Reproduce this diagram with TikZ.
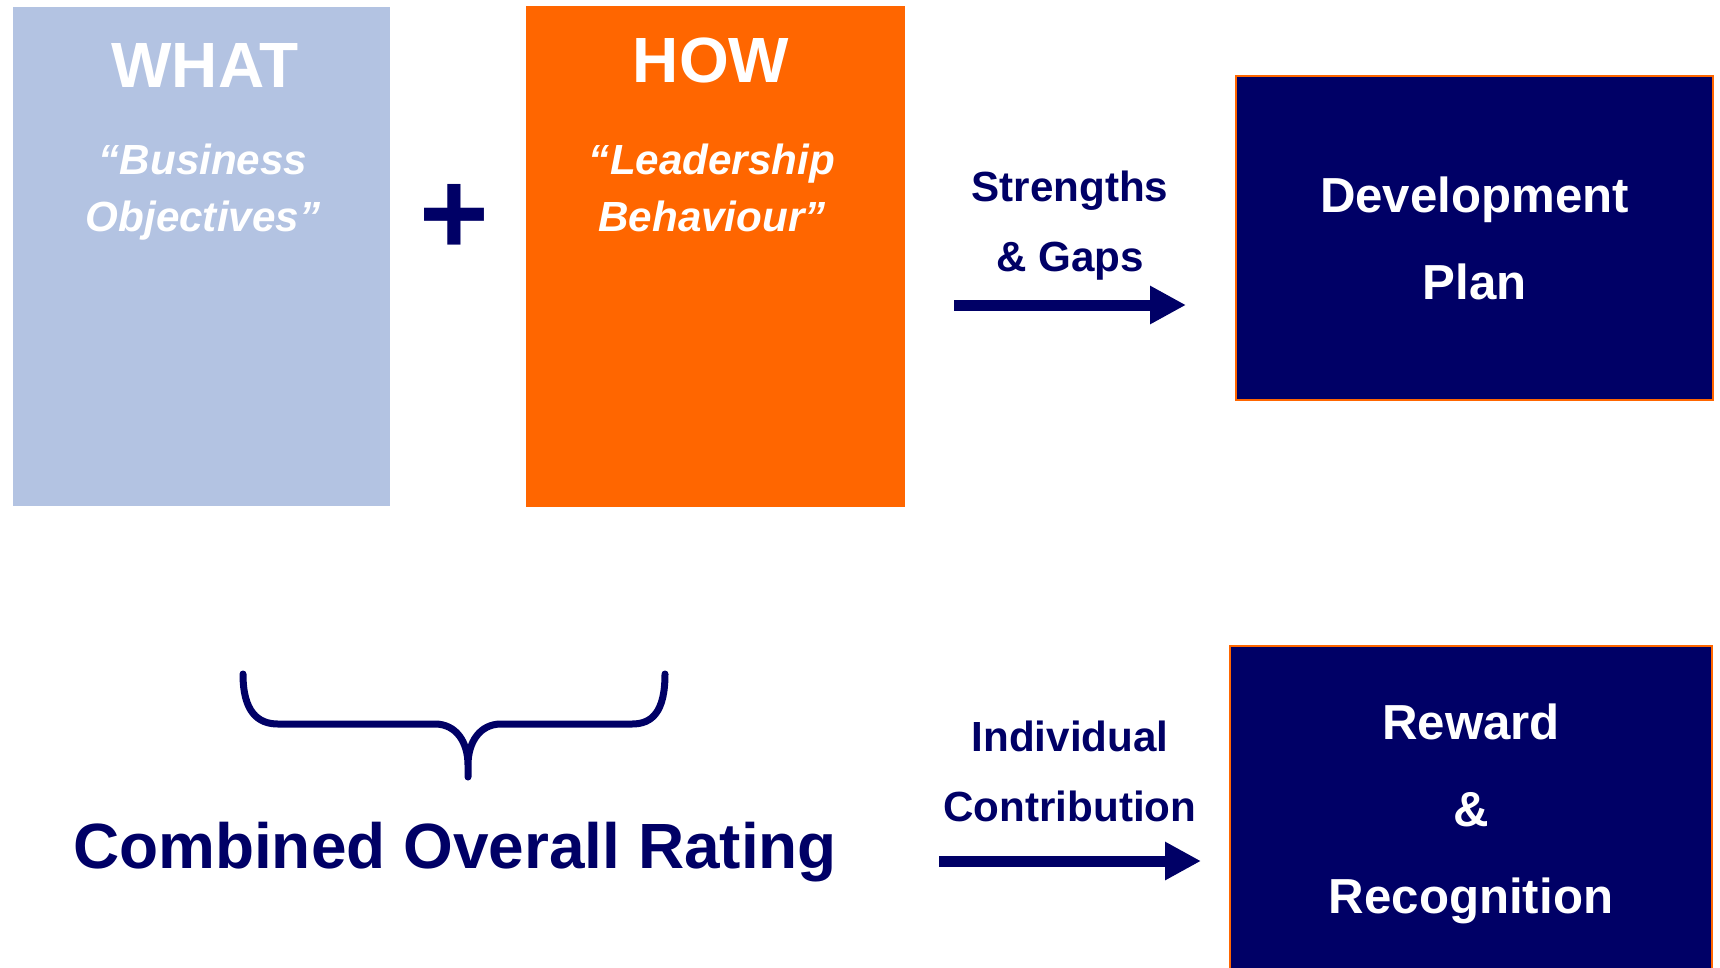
\documentclass[tikz,border=0pt]{standalone}
\usepackage{fontspec}
\setmainfont{Liberation Sans}
\usetikzlibrary{arrows.meta}

\definecolor{navy}{HTML}{000066}
\definecolor{whatblue}{HTML}{B3C3E2}
\definecolor{howorange}{HTML}{FF6600}

\tikzset{
  colbox/.style={inner sep=0pt, draw=none},
  boxtitle/.style={text=white, inner sep=0pt, anchor=base,
    font=\fontsize{36.4}{40}\selectfont\bfseries},
  boxquote/.style={text=white, inner sep=0pt, anchor=north, align=center,
    font=\fontsize{24}{32.4}\selectfont\bfseries\itshape},
  flowlabel/.style={text=navy, inner sep=0pt, anchor=north, align=center,
    font=\fontsize{24}{39.8}\selectfont\bfseries},
  outbox/.style={fill=navy, draw=howorange, line width=0.04cm, text=white,
    inner sep=0pt, align=center, font=\fontsize{28}{49.5}\selectfont\bfseries},
  fatarrow/.style={draw=navy, line width=0.22cm,
    -{Triangle[width=0.72cm,length=0.72cm]}},
}

\begin{document}
\begin{tikzpicture}[x=0.02cm,y=-0.02cm]
        \clip (0,0) rectangle (1720,967);

        \node[colbox, fill=whatblue, minimum width=7.54cm, minimum height=9.98cm] (what) at (201.5,256.5) {};
        \node[colbox, fill=howorange, minimum width=7.58cm, minimum height=10.02cm] (how) at (715.5,256.5) {};

        \node[boxtitle] (whattitle) at (205,87) {WHAT};
        \node[boxquote] (whatquote) at (203,144) {“Business\\Objectives”};
        \node[boxtitle] (howtitle) at (711,82) {HOW};
        \node[boxquote] (howquote) at (712,144) {“Leadership\\Behaviour”};

        \node[text=navy, inner sep=0pt, font=\fontsize{68}{70}\selectfont\bfseries] (plus) at (454,219) {+};

        \node[outbox, minimum width=9.54cm, minimum height=6.48cm] (devplan) at (1474.5,238) {Development\\Plan};
        \node[outbox, minimum width=9.64cm, minimum height=6.72cm] (reward) at (1471,814) {Reward\\\&\\Recognition};

        \node[flowlabel] (gaps) at (1070,171) {Strengths\\\& Gaps};
        \coordinate (gapstail) at (954,305);
        \coordinate (gapshead) at (1186,305);
        \draw[fatarrow] (gapstail) -- (gapshead);

        \node[flowlabel] (contrib) at (1070,721) {Individual\\Contribution};
        \coordinate (contribtail) at (939,861);
        \coordinate (contribhead) at (1201,861);
        \draw[fatarrow] (contribtail) -- (contribhead);

        % brace over the rating
        \draw[navy, line width=0.14cm, line cap=round]
          (243,674) .. controls (243,712) and (258,724) .. (278,724) -- (435,724)
          .. controls (456,724) and (468,742) .. (468,765) -- (468,777)
          (468,765) .. controls (468,742) and (480,724) .. (501,724) -- (632,724)
          .. controls (652,724) and (665,712) .. (665,674);

        \node[text=navy, inner sep=0pt, anchor=base, font=\fontsize{36.4}{40}\selectfont\bfseries] (rating) at (455,868) {Combined Overall Rating};
\end{tikzpicture}
\end{document}
